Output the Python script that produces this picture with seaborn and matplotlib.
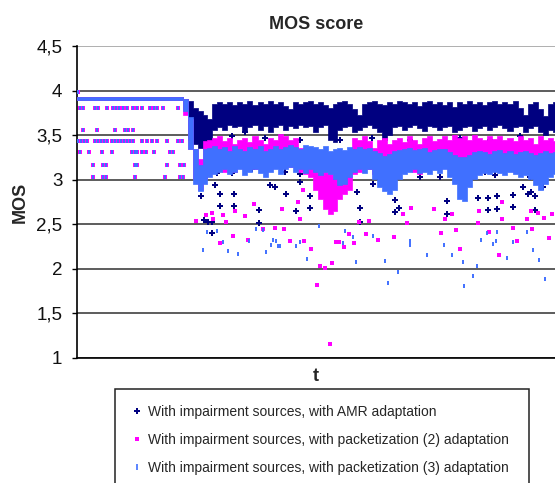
import matplotlib
matplotlib.use("Agg")
import matplotlib.pyplot as plt
import seaborn as sns
from matplotlib.patches import Rectangle

# ---------------- data ----------------
series_names = [
    "With impairment sources, with AMR adaptation",
    "With impairment sources, with packetization (2) adaptation",
    "With impairment sources, with packetization (3) adaptation",
]
series_colors = ["#000080", "#FF00FF", "#4070FF"]

# time axis of the dense traces (samples); plateau then every 5 samples
band_t = [0, 103] + list(range(108, 479, 5))

plateau_hi = [3.93, 3.93]
plateau_lo = [3.89, 3.89]

amr_hi = plateau_hi + [
    3.91, 3.88, 3.81, 3.77, 3.73, 3.68, 3.85, 3.87, 3.85, 3.87,
    3.84, 3.87, 3.85, 3.88, 3.84, 3.87, 3.85, 3.88, 3.85, 3.87,
    3.83, 3.79, 3.87, 3.85, 3.87, 3.88, 3.85, 3.87, 3.84, 3.81,
    3.85, 3.87, 3.88, 3.85, 3.79, 3.73, 3.85, 3.87, 3.88, 3.85,
    3.84, 3.87, 3.85, 3.88, 3.87, 3.85, 3.87, 3.83, 3.87, 3.88,
    3.85, 3.87, 3.84, 3.87, 3.82, 3.87, 3.85, 3.88, 3.85, 3.87,
    3.84, 3.87, 3.88, 3.85, 3.87, 3.85, 3.88, 3.81, 3.73, 3.85,
    3.87, 3.79, 3.72, 3.85, 3.87]
amr_lo = plateau_lo + [
    3.79, 3.45, 3.40, 3.36, 3.34, 3.37, 3.56, 3.59, 3.56, 3.61,
    3.59, 3.60, 3.54, 3.59, 3.61, 3.56, 3.60, 3.53, 3.59, 3.61,
    3.56, 3.60, 3.58, 3.61, 3.59, 3.60, 3.54, 3.59, 3.61, 3.45,
    3.42, 3.56, 3.59, 3.60, 3.54, 3.56, 3.59, 3.61, 3.58, 3.53,
    3.45, 3.50, 3.59, 3.60, 3.56, 3.59, 3.61, 3.58, 3.55, 3.60,
    3.59, 3.56, 3.59, 3.60, 3.54, 3.56, 3.59, 3.60, 3.55, 3.58,
    3.60, 3.56, 3.59, 3.61, 3.58, 3.55, 3.59, 3.60, 3.54, 3.58,
    3.60, 3.53, 3.50, 3.56, 3.54]

pk2_hi = plateau_hi + [
    3.90, 3.68, 3.34, 3.23, 3.43, 3.45, 3.47, 3.49, 3.43, 3.47,
    3.40, 3.45, 3.47, 3.42, 3.49, 3.45, 3.40, 3.47, 3.45, 3.51,
    3.49, 3.45, 3.47, 3.36, 3.34, 3.32, 3.25, 3.17, 3.09, 3.06,
    3.01, 3.12, 3.17, 3.28, 3.47, 3.45, 3.49, 3.43, 3.36, 3.45,
    3.47, 3.40, 3.45, 3.47, 3.42, 3.49, 3.45, 3.40, 3.47, 3.49,
    3.43, 3.46, 3.49, 3.45, 3.50, 3.47, 3.49, 3.45, 3.50, 3.47,
    3.45, 3.49, 3.46, 3.49, 3.45, 3.47, 3.43, 3.49, 3.45, 3.47,
    3.40, 3.49, 3.45, 3.47, 3.43]
pk2_lo = plateau_lo + [
    3.73, 3.34, 3.01, 2.89, 3.01, 3.06, 3.12, 3.14, 3.09, 3.17,
    3.09, 3.14, 3.12, 3.17, 3.12, 3.14, 3.09, 3.12, 3.14, 3.17,
    3.23, 3.14, 3.17, 3.09, 3.06, 3.03, 2.89, 2.78, 2.67, 2.61,
    2.65, 2.78, 2.84, 2.89, 3.06, 3.09, 3.14, 3.12, 3.06, 3.09,
    3.12, 3.14, 3.09, 3.17, 3.12, 3.14, 3.09, 3.06, 3.12, 3.14,
    3.16, 3.12, 3.14, 3.12, 3.17, 3.14, 3.12, 3.14, 3.16, 3.12,
    3.14, 3.17, 3.12, 3.14, 3.17, 3.12, 3.09, 3.14, 3.16, 3.12,
    3.14, 3.12, 3.09, 3.14, 3.12]

pk3_hi = plateau_hi + [
    3.90, 3.70, 3.34, 3.17, 3.34, 3.36, 3.38, 3.34, 3.37, 3.32,
    3.38, 3.34, 3.32, 3.37, 3.34, 3.38, 3.32, 3.35, 3.38, 3.34,
    3.37, 3.39, 3.37, 3.34, 3.39, 3.38, 3.37, 3.34, 3.38, 3.32,
    3.35, 3.36, 3.33, 3.37, 3.35, 3.37, 3.34, 3.36, 3.32, 3.30,
    3.27, 3.29, 3.32, 3.33, 3.35, 3.36, 3.33, 3.35, 3.36, 3.31,
    3.33, 3.35, 3.34, 3.31, 3.28, 3.25, 3.25, 3.28, 3.31, 3.32,
    3.31, 3.29, 3.32, 3.33, 3.30, 3.32, 3.29, 3.31, 3.32, 3.30,
    3.28, 3.30, 3.32, 3.30, 3.31]
pk3_lo = plateau_lo + [
    3.77, 3.34, 2.95, 2.87, 2.95, 3.03, 3.06, 3.09, 3.12, 3.06,
    3.09, 3.12, 3.05, 3.09, 3.12, 3.08, 3.03, 3.09, 3.12, 3.06,
    3.12, 3.14, 3.09, 3.12, 3.07, 3.12, 3.09, 3.05, 3.09, 3.06,
    3.01, 2.94, 2.95, 3.03, 3.09, 3.12, 3.08, 3.12, 3.01, 2.92,
    2.87, 2.84, 2.89, 3.01, 3.06, 3.09, 3.12, 3.07, 3.09, 3.06,
    3.11, 3.08, 3.12, 3.03, 2.95, 2.78, 2.76, 2.92, 3.01, 3.05,
    3.07, 3.06, 3.09, 3.07, 3.05, 3.09, 3.06, 3.03, 3.05, 3.01,
    2.94, 2.89, 2.95, 3.03, 3.06]

# isolated points in the first (stable) part, shared by the two packetization series
early_levels = [3.81, 3.56, 3.43, 3.31, 3.16, 3.03, 3.98]
early_t_381 = [3, 6, 18, 21, 30, 36, 39, 42, 46, 50, 56, 60, 65, 73, 77, 80, 86, 101]
early_t_356 = [6, 20, 38, 48, 51, 56]
early_t_343 = [1, 4, 7, 10, 18, 21, 24, 27, 30, 35, 38, 41, 44, 47, 50, 53, 56,
               65, 70, 75, 80, 90, 101, 105]
early_t_331 = [3, 12, 25, 35, 55, 58, 60, 65, 69, 77, 93, 96]
early_t_316 = [16, 26, 29, 58, 60, 90, 103, 107]
early_t_303 = [16, 26, 29, 58, 88, 103, 106]
early_t_398 = [1]

# isolated points of each series after the change
amr_out_t = [138, 143, 157, 143, 157, 124, 127, 131, 135, 135, 182, 182, 193, 198, 209,
             219, 233, 233, 223, 280, 283, 283, 296, 318, 318, 322, 370, 370, 384, 401,
             411, 411, 420, 420, 436, 436, 446, 451, 454, 458, 458, 466,
             128, 140, 155, 175, 155, 168, 208, 223, 253, 268, 303, 318, 343, 363, 385,
             400, 408, 418, 433, 453, 471, 188, 223, 263, 295, 333, 383, 413, 443]
amr_out_v = [2.94, 2.84, 2.84, 2.70, 2.70, 2.82, 2.55, 2.53, 2.53, 2.40, 2.66, 2.51, 2.94, 2.92, 2.84,
             2.65, 2.82, 2.68, 2.97, 2.86, 2.68, 2.53, 2.95, 2.77, 2.64, 2.68, 2.76, 2.61, 2.93, 2.79,
             2.79, 2.66, 2.82, 2.67, 2.83, 2.69, 2.92, 2.84, 2.86, 2.82, 2.66, 2.92,
             3.03, 3.08, 3.08, 3.12, 3.49, 3.53, 3.09, 3.06, 3.23, 3.14, 3.01, 3.05, 3.03, 3.03, 3.14,
             3.34, 3.09, 3.05, 3.12, 3.03, 3.07, 3.47, 3.45, 3.45, 3.47, 3.45, 3.47, 3.45, 3.49]

pk2_out_t = [119, 129, 135, 136, 146, 149, 158, 168, 177, 186, 198, 143, 156, 171, 226,
             205, 221, 223, 207, 213, 227, 234, 243, 248, 255, 240, 253, 259, 262, 267,
             272, 277, 282, 292, 289, 301, 317, 326, 330, 334, 357, 364, 368, 375, 379,
             383, 401, 402, 412, 422, 425, 425, 436, 440, 450, 454, 455, 461, 467, 472, 475]
pk2_out_v = [2.54, 2.60, 2.63, 2.56, 2.60, 2.53, 2.65, 2.59, 2.73, 2.45, 2.46, 2.29, 2.37, 2.32, 2.89,
             2.67, 2.75, 2.56, 2.45, 2.31, 2.31, 2.22, 2.03, 2.01, 2.07, 1.82, 1.16, 2.30, 2.30, 2.25,
             2.39, 2.29, 2.53, 2.54, 2.39, 2.32, 2.36, 2.61, 2.51, 2.68, 2.67, 2.40, 2.56, 2.61, 2.44,
             2.22, 2.51, 2.65, 2.41, 2.16, 2.75, 2.56, 2.46, 2.31, 2.56, 2.65, 2.45, 2.63, 2.57, 2.35, 2.61]

pk3_out_t = [126, 130, 140, 146, 151, 161, 172, 179, 189, 186, 196, 201, 194, 199, 203,
             219, 223, 230, 242, 268, 276, 266, 279, 296, 308, 311, 321, 333, 333, 350,
             367, 375, 386, 387, 396, 400, 404, 410, 416, 419, 420, 430, 436, 450, 456, 462, 468]
pk3_out_v = [2.21, 2.41, 2.42, 2.30, 2.20, 2.17, 2.31, 2.45, 2.19, 2.44, 2.32, 2.26, 2.27, 2.31, 2.26,
             2.26, 2.30, 2.11, 2.48, 2.42, 2.36, 2.29, 2.08, 2.37, 2.09, 1.84, 1.96, 2.31, 2.27, 2.15,
             2.27, 2.15, 2.08, 1.81, 1.92, 2.03, 2.32, 2.40, 2.28, 2.31, 2.41, 2.12, 2.30, 2.41, 2.21, 2.10, 1.89]

y_ticks = [1, 1.5, 2, 2.5, 3, 3.5, 4, 4.5]
y_tick_labels = ["1", "1,5", "2", "2,5", "3", "3,5", "4", "4,5"]

# ---------------- build ----------------
early_groups = [early_t_381, early_t_356, early_t_343, early_t_331, early_t_316, early_t_303, early_t_398]
early_t, early_v = [], []
for lvl, ts in zip(early_levels, early_groups):
    early_t += ts
    early_v += [lvl] * len(ts)

sns.set_theme(style="white")
plt.rcParams["font.family"] = ["Liberation Sans", "DejaVu Sans"]

W, H = 555, 483
fig = plt.figure(figsize=(W / 100, H / 100), dpi=100)
ax = fig.add_axes([77 / W, 1 - 358 / H, 478 / W, 312 / H])

bands = [(amr_hi, amr_lo), (pk2_hi, pk2_lo), (pk3_hi, pk3_lo)]
outs = [(amr_out_t, amr_out_v),
        (early_t + pk2_out_t, early_v + pk2_out_v),
        (early_t + pk3_out_t, early_v + pk3_out_v)]
marker_kw = [
    dict(marker="P", s=16, linewidth=0),
    dict(marker="s", s=6, linewidth=0),
    dict(marker="|", s=10, linewidth=1.4),
]

for i in range(3):
    hi, lo = bands[i]
    ax.fill_between(band_t, lo, hi, step="mid", color=series_colors[i],
                    linewidth=0.5, edgecolor=series_colors[i], zorder=2 + i)
    ot, ov = outs[i]
    sns.scatterplot(x=ot, y=ov, ax=ax, color=series_colors[i], label=series_names[i],
                    zorder=2 + i, legend=False, **marker_kw[i])

ax.set_xlim(0, 478)
ax.set_ylim(1, 4.5)
ax.set_yticks(y_ticks)
ax.set_yticklabels(y_tick_labels)
ax.set_xticks([])
ax.yaxis.grid(True, color="#303030", linewidth=1.1)
ax.set_axisbelow(True)
ax.get_ygridlines()[-1].set_color("#9a9a9a")
for s in ["top", "right"]:
    ax.spines[s].set_visible(False)
for s in ["left", "bottom"]:
    ax.spines[s].set_color("black")
    ax.spines[s].set_linewidth(1.2)
ax.tick_params(axis="y", left=True, length=3.6, width=1, color="black",
               pad=7, labelsize=13.5, labelcolor="#111111")

ax.set_title("MOS score", fontsize=13, fontweight="bold", pad=12)
ax.set_ylabel("MOS", fontsize=13, fontweight="bold", labelpad=5)
ax.set_xlabel("t", fontsize=13, fontweight="bold", labelpad=7.5)

handles = []
for i in range(3):
    handles.append(plt.Line2D([], [], linestyle="none", color=series_colors[i],
                              marker=["P", "s", "|"][i], markersize=[4, 2.5, 4][i],
                              markeredgewidth=[0, 0, 1.2][i]))
fig.legend(handles, series_names, loc="upper left",
           bbox_to_anchor=(130 / W, 1 - 402 / H), frameon=False, fontsize=10,
           labelspacing=1.0, handlelength=0.6, handletextpad=0.5, borderpad=0.2,
           borderaxespad=0)
fig.patches.append(Rectangle((115 / W, -0.05), (529 - 115) / W, 0.05 + 1 - 389 / H,
                             transform=fig.transFigure, fill=False,
                             edgecolor="#222222", linewidth=1.1))

fig.savefig("out.png", dpi=100)
